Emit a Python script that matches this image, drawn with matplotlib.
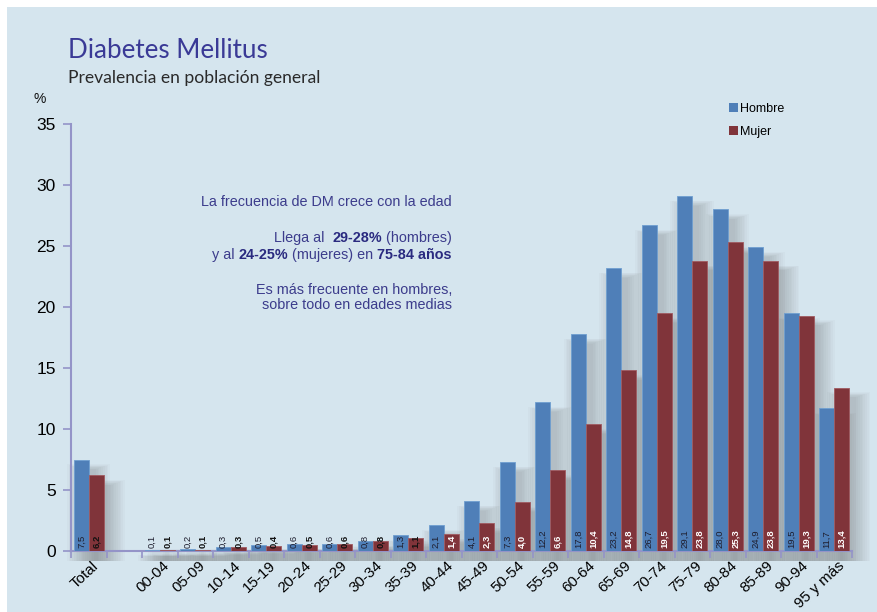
import matplotlib
matplotlib.use("Agg")
import matplotlib.pyplot as plt
import matplotlib.transforms as mtransforms
from matplotlib.patches import Rectangle, Patch
from matplotlib.offsetbox import TextArea, HPacker, AnnotationBbox

categories = ["Total", "", "00-04", "05-09", "10-14", "15-19", "20-24", "25-29",
              "30-34", "35-39", "40-44", "45-49", "50-54", "55-59", "60-64",
              "65-69", "70-74", "75-79", "80-84", "85-89", "90-94", "95 y más"]
hombre = [7.5, None, 0.1, 0.2, 0.3, 0.5, 0.6, 0.6, 0.8, 1.3, 2.1, 4.1, 7.3,
          12.2, 17.8, 23.2, 26.7, 29.1, 28.0, 24.9, 19.5, 11.7]
mujer = [6.2, None, 0.1, 0.1, 0.3, 0.4, 0.5, 0.6, 0.8, 1.1, 1.4, 2.3, 4.0,
         6.6, 10.4, 14.8, 19.5, 23.8, 25.3, 23.8, 19.3, 13.4]
yticks = [0, 5, 10, 15, 20, 25, 30, 35]

BG = "#d5e5ee"
BLUE = "#4f7fb8"
RED = "#80343a"
AXC = "#9494c8"
TXT = "#3c3c8c"

W, H = 877, 612
fig = plt.figure(figsize=(W / 100, H / 100), dpi=100, facecolor="white")
fig.patches.append(Rectangle((7 / W, 0), 1, 1 - 7 / H, transform=fig.transFigure,
                             facecolor=BG, edgecolor="none", zorder=-10))

ax = fig.add_axes([71 / W, (H - 551) / H, (852 - 71) / W, (551 - 124) / H])
ax.set_facecolor("none")
ax.set_xlim(-0.5, len(categories) - 0.5)
ax.set_ylim(0, 35)

bw = 0.42
for i, (h, m) in enumerate(zip(hombre, mujer)):
    if h is None:
        continue
    for x0, v in ((i - bw, h), (i, m)):
        # soft shadow
        for k in range(9):
            dx = 0.05 * k
            ax.add_patch(Rectangle((x0 + 0.2 - dx, -0.8), bw + 2 * dx,
                                   max(v - 0.8 + 0.2 * k, 0.2) + 0.8 - 0.15 * k,
                                   facecolor="#666666", edgecolor="none", alpha=0.035,
                                   zorder=1, clip_on=False))
    ax.bar(i - bw / 2, h, width=bw, color=BLUE, edgecolor="#6f9fd0", linewidth=0.6, zorder=3)
    ax.bar(i + bw / 2, m, width=bw, color=RED, edgecolor="#a05a60", linewidth=0.6, zorder=3)
    ax.text(i - bw / 2, 0.25, f"{h:.1f}".replace(".", ","), rotation=90, ha="center",
            va="bottom", fontsize=6.8, color="#1e1e2e", zorder=5, family="Liberation Sans")
    mc = "white" if (m >= 1.4 and i > 0) else "#111111"
    ax.text(i + bw / 2, 0.25, f"{m:.1f}".replace(".", ","), rotation=90, ha="center",
            va="bottom", fontsize=6.8, color=mc, fontweight="bold", zorder=5,
            family="Liberation Sans")

for s in ("top", "right"):
    ax.spines[s].set_visible(False)
for s in ("left", "bottom"):
    ax.spines[s].set_color(AXC)
    ax.spines[s].set_linewidth(1.5)

ax.set_yticks(yticks)
ax.set_yticklabels([str(t) for t in yticks], fontsize=12.5, family="Liberation Sans")
ax.tick_params(axis="y", length=6, width=1.2, color=AXC, pad=5)

ax.set_xticks([i - 0.5 for i in range(len(categories) + 1)], minor=True)
ax.set_xticks(range(len(categories)))
ax.set_xticklabels(categories, rotation=43, ha="right", va="top", rotation_mode="anchor",
                   fontsize=11, family="Liberation Sans")
ax.tick_params(axis="x", which="major", length=0, pad=5.5)
ax.tick_params(axis="x", which="minor", length=5, width=1.2, color=AXC)
for lbl in ax.get_xticklabels():
    lbl.set_transform(lbl.get_transform() + mtransforms.ScaledTranslation(3 / 100, 0, fig.dpi_scale_trans))

# titles
fig.text(68 / W, 1 - 51 / H, "Diabetes Mellitus", fontsize=18.7, color="#3a3a96",
         family="Lato", va="center", ha="left")
fig.text(68 / W, 1 - 78 / H, "Prevalencia en población general", fontsize=12.6,
         color="#2a2a2a", family="Lato", va="center", ha="left")
fig.text(34 / W, 1 - 99 / H, "%", fontsize=10, color="#111111", family="Liberation Sans",
         va="center", ha="left")

# annotation lines (right aligned)
lines = [
    (202, [("La frecuencia de DM crece con la edad", False)]),
    (238, [("Llega al  ", False), ("29-28%", True), (" (hombres)", False)]),
    (255, [("y al ", False), ("24-25%", True), (" (mujeres) en ", False), ("75-84 años", True)]),
    (290, [("Es más frecuente en hombres,", False)]),
    (305, [("sobre todo en edades medias", False)]),
]
for ypx, parts in lines:
    areas = [TextArea(t, textprops=dict(fontsize=10.4, color=("#2a2a80" if b else TXT),
                                        fontweight=("bold" if b else "normal"),
                                        family="Liberation Sans"))
             for t, b in parts]
    pk = HPacker(children=areas, pad=0, sep=0, align="baseline")
    ab = AnnotationBbox(pk, (452 / W, 1 - ypx / H), xycoords="figure fraction",
                        box_alignment=(1, 0.5), frameon=False, pad=0)
    fig.add_artist(ab)

handles = [Patch(facecolor=BLUE, edgecolor="none"), Patch(facecolor=RED, edgecolor="none")]
fig.legend(handles, ["Hombre", "Mujer"], loc="upper left",
           bbox_to_anchor=(729 / W, 1 - 103 / H), frameon=False,
           handlelength=0.7, handleheight=0.7, handletextpad=0.2, labelspacing=0.85,
           borderaxespad=0, borderpad=0, prop=dict(family="Liberation Sans", size=9))

fig.savefig("out.png", dpi=100, facecolor="white")
